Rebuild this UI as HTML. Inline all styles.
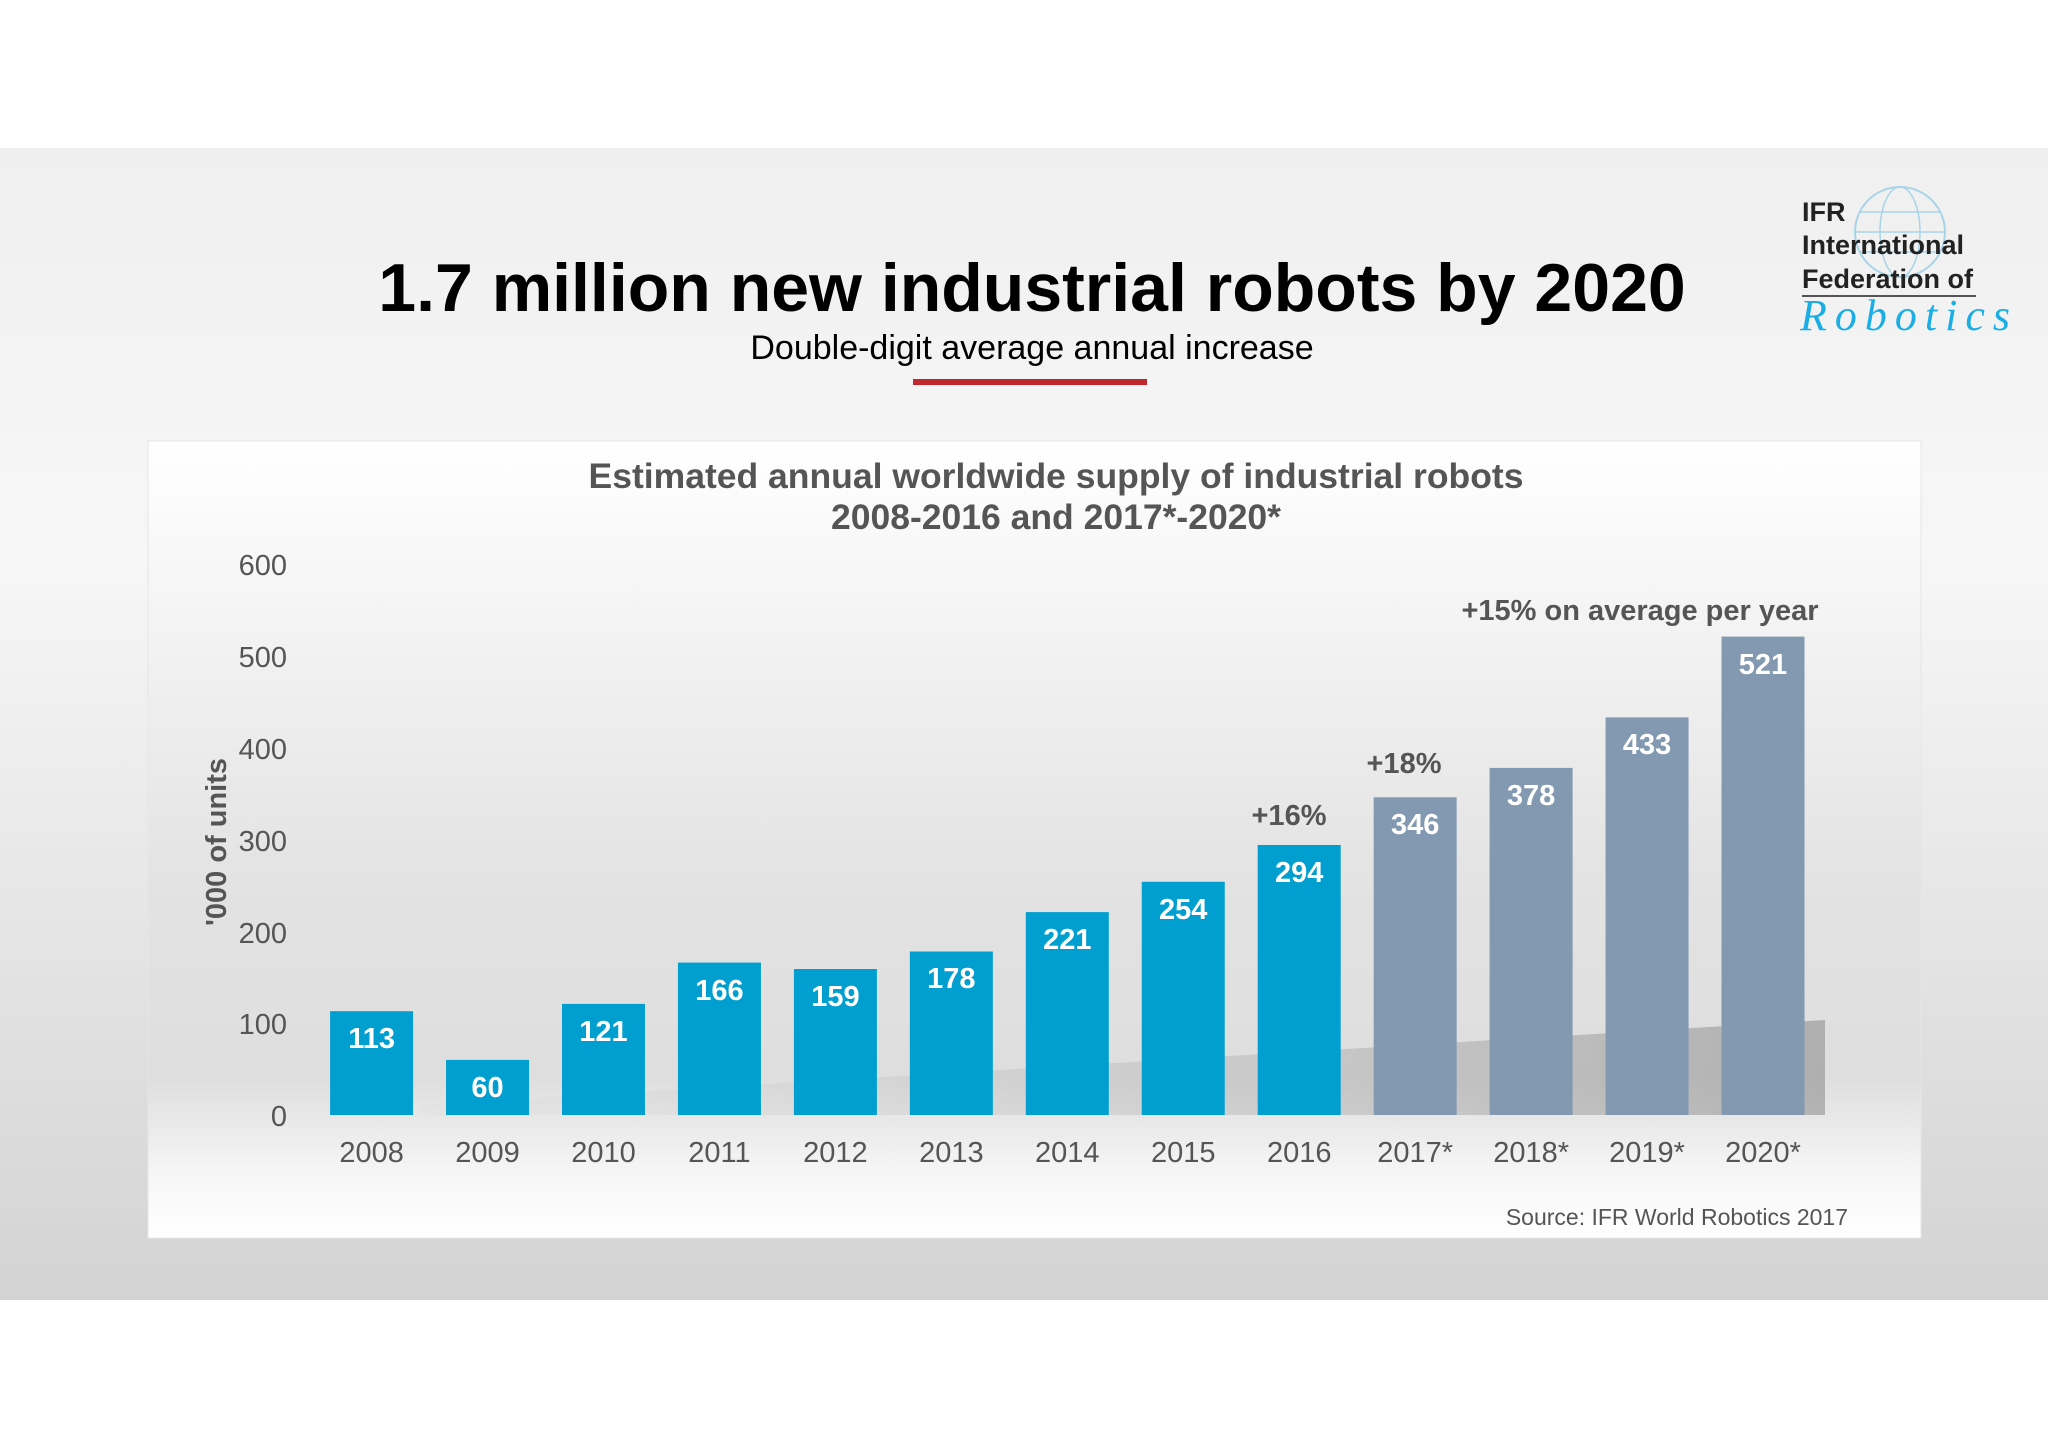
<!DOCTYPE html>
<html><head><meta charset="utf-8"><style>
html,body{margin:0;padding:0;background:#fff}
body{width:2048px;height:1447px;overflow:hidden;font-family:"Liberation Sans",Arial,sans-serif}
</style></head><body>
<svg width="2048" height="1447" viewBox="0 0 2048 1447" xmlns="http://www.w3.org/2000/svg" font-family="Liberation Sans, Arial, sans-serif">
<defs>
<linearGradient id="bg" x1="0" y1="0" x2="0" y2="1">
<stop offset="0" stop-color="#efefef"/><stop offset="0.35" stop-color="#f7f7f7"/><stop offset="1" stop-color="#d3d3d3"/>
</linearGradient>
<linearGradient id="panel" x1="0" y1="0" x2="0" y2="1">
<stop offset="0" stop-color="#ffffff"/><stop offset="0.55" stop-color="#e3e3e3"/><stop offset="0.8" stop-color="#dedede"/><stop offset="0.92" stop-color="#f6f6f6"/><stop offset="1" stop-color="#ffffff"/>
</linearGradient>
<linearGradient id="sh" x1="0" y1="0" x2="1" y2="0">
<stop offset="0" stop-color="#c8c8c8" stop-opacity="0.1"/><stop offset="1" stop-color="#8a8a8a" stop-opacity="0.8"/>
</linearGradient>
</defs>
<rect x="0" y="148" width="2048" height="1152" fill="url(#bg)"/>
<text x="1032" y="311" text-anchor="middle" font-size="68" font-weight="bold" fill="#000">1.7 million new industrial robots by 2020</text>
<text x="1032" y="359" text-anchor="middle" font-size="34" fill="#000">Double-digit average annual increase</text>
<rect x="913" y="379" width="234" height="6" fill="#c0282d"/>
<circle cx="1900" cy="232" r="45" fill="none" stroke="#a8d4e8" stroke-width="2"/>
<ellipse cx="1900" cy="232" rx="20" ry="45" fill="none" stroke="#a8d4e8" stroke-width="1.5"/>
<line x1="1855" y1="232" x2="1945" y2="232" stroke="#a8d4e8" stroke-width="1.5"/>
<line x1="1860" y1="212" x2="1940" y2="212" stroke="#a8d4e8" stroke-width="1.5"/>
<line x1="1860" y1="252" x2="1940" y2="252" stroke="#a8d4e8" stroke-width="1.5"/>
<text x="1802" y="221" font-size="27" font-weight="bold" fill="#222">IFR</text>
<text x="1802" y="254" font-size="27" font-weight="bold" fill="#222">International</text>
<text x="1802" y="288" font-size="27" font-weight="bold" fill="#222">Federation of</text>
<line x1="1802" y1="296" x2="1976" y2="296" stroke="#555" stroke-width="2"/>
<text x="1800" y="330" font-size="44" font-style="italic" fill="#1aaee5" font-family="Liberation Serif, serif" textLength="210">Robotics</text>
<rect x="148" y="441" width="1773" height="797" fill="url(#panel)" stroke="#e6e6e6"/>
<text x="1056" y="488" text-anchor="middle" font-size="35.5" font-weight="bold" fill="#555">Estimated annual worldwide supply of industrial robots</text>
<text x="1056" y="529" text-anchor="middle" font-size="35.5" font-weight="bold" fill="#555">2008-2016 and 2017*-2020*</text>
<g font-size="29" fill="#555" text-anchor="end">
<text x="287" y="575">600</text><text x="287" y="667">500</text><text x="287" y="759">400</text>
<text x="287" y="851">300</text><text x="287" y="943">200</text><text x="287" y="1034">100</text><text x="287" y="1126">0</text>
</g>
<text transform="translate(226,842) rotate(-90)" text-anchor="middle" font-size="29" font-weight="bold" fill="#555">'000 of units</text>
<polygon points="420,1115 1825,1115 1825,1020 420,1105" fill="url(#sh)" opacity="0.7"/>
<g fill="#009fcf">
<rect x="330.1" y="1011.2" width="83" height="103.8"/>
<rect x="446.05" y="1059.9" width="83" height="55.1"/>
<rect x="562" y="1003.9" width="83" height="111.1"/>
<rect x="677.95" y="962.6" width="83" height="152.4"/>
<rect x="793.9" y="969" width="83" height="146"/>
<rect x="909.85" y="951.5" width="83" height="163.5"/>
<rect x="1025.8" y="912.1" width="83" height="202.9"/>
<rect x="1141.75" y="881.8" width="83" height="233.2"/>
<rect x="1257.7" y="845" width="83" height="270"/>
</g>
<g fill="#8399b1">
<rect x="1373.65" y="797.3" width="83" height="317.7"/>
<rect x="1489.6" y="767.9" width="83" height="347.1"/>
<rect x="1605.55" y="717.4" width="83" height="397.6"/>
<rect x="1721.5" y="636.6" width="83" height="478.4"/>
</g>
<g font-size="29" font-weight="bold" fill="#fff" text-anchor="middle">
<text x="371.6" y="1048">113</text>
<text x="487.55" y="1097">60</text>
<text x="603.5" y="1041">121</text>
<text x="719.45" y="1000">166</text>
<text x="835.4" y="1006">159</text>
<text x="951.35" y="988">178</text>
<text x="1067.3" y="949">221</text>
<text x="1183.25" y="919">254</text>
<text x="1299.2" y="882">294</text>
<text x="1415.15" y="834">346</text>
<text x="1531.1" y="805">378</text>
<text x="1647.05" y="754">433</text>
<text x="1763" y="674">521</text>
</g>
<g font-size="29" fill="#555" text-anchor="middle">
<text x="371.6" y="1162">2008</text>
<text x="487.55" y="1162">2009</text>
<text x="603.5" y="1162">2010</text>
<text x="719.45" y="1162">2011</text>
<text x="835.4" y="1162">2012</text>
<text x="951.35" y="1162">2013</text>
<text x="1067.3" y="1162">2014</text>
<text x="1183.25" y="1162">2015</text>
<text x="1299.2" y="1162">2016</text>
<text x="1415.15" y="1162">2017*</text>
<text x="1531.1" y="1162">2018*</text>
<text x="1647.05" y="1162">2019*</text>
<text x="1763" y="1162">2020*</text>
</g>
<text x="1289" y="825" text-anchor="middle" font-size="29" font-weight="bold" fill="#555">+16%</text>
<text x="1404" y="773" text-anchor="middle" font-size="29" font-weight="bold" fill="#555">+18%</text>
<text x="1640" y="620" text-anchor="middle" font-size="29" font-weight="bold" fill="#555">+15% on average per year</text>
<text x="1848" y="1225" text-anchor="end" font-size="23" fill="#555">Source: IFR World Robotics 2017</text>
</svg>
</body></html>
